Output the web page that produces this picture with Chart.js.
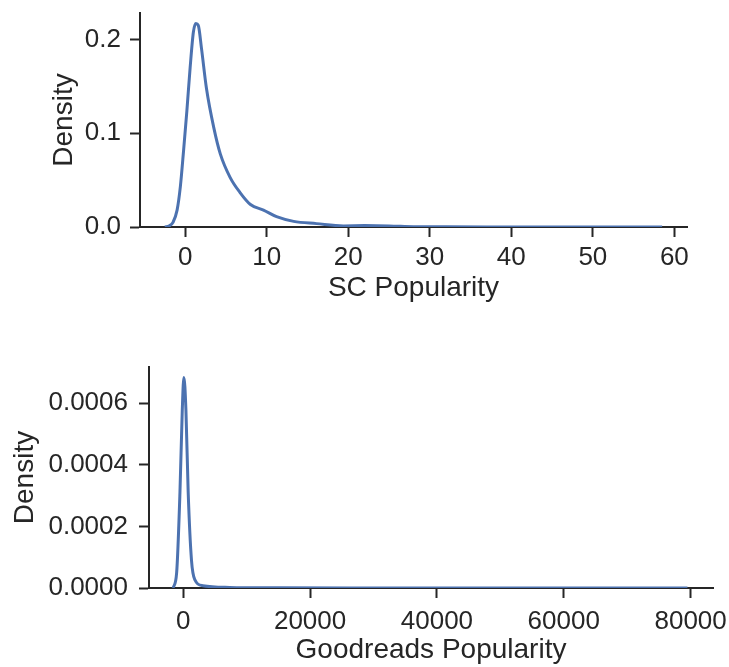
<!DOCTYPE html>
<html>
<head>
<meta charset="utf-8">
<script src="https://cdn.jsdelivr.net/npm/chart.js@4"></script>
<style>
  body { margin: 0; background: #fff; }
  #top, #bottom { position: absolute; left: 0; }
  #top { top: 0; }
  #bottom { top: 340px; }
</style>
</head>
<body>
<canvas id="top" width="729" height="330"></canvas>
<canvas id="bottom" width="729" height="327"></canvas>
<script>
// KDE of SC popularity
const scX = [-2.5, -2.0, -1.5, -1.0, -0.6, -0.2, 0.2, 0.6, 1.0, 1.3, 1.6, 2.0, 2.6, 3.5, 4.3, 5.5, 6.7, 8.0, 9.6, 11.2, 13.3, 16.1, 19.4, 22, 25, 28, 32, 40, 50, 58.5];
const scY = [0, 0.001, 0.005, 0.018, 0.043, 0.082, 0.124, 0.170, 0.208, 0.217, 0.215, 0.190, 0.148, 0.106, 0.078, 0.053, 0.037, 0.024, 0.018, 0.011, 0.006, 0.0036, 0.0012, 0.0015, 0.0012, 0.0004, 0.0002, 0.0001, 0.00005, 0];

// KDE of Goodreads popularity
const grX = [-1600, -1040, -520, -150, 100, 420, 780, 1300, 1820, 3100, 7300, 15000, 30000, 50000, 79500];
const grY = [0, 0.00005, 0.00031, 0.00058, 0.000684, 0.00058, 0.00031, 0.00009, 0.000027, 0.0000075, 0.000002, 0.0000008, 0.0000003, 0.0000001, 0];

const scXTicks = [0, 10, 20, 30, 40, 50, 60];
const scYTicks = [0, 0.1, 0.2];
const scYLabels = ['0.0', '0.1', '0.2'];
const grXTicks = [0, 20000, 40000, 60000, 80000];
const grYTicks = [0, 0.0002, 0.0004, 0.0006];
const grYLabels = ['0.0000', '0.0002', '0.0004', '0.0006'];

const ink = '#262626';
const lineBlue = '#4C72B0';
const fam = '"Liberation Sans", Arial, sans-serif';

// no extra label padding, chart area comes from layout padding only
function noPad(s) {
    s.paddingTop = 0; s.paddingBottom = 0; s.paddingLeft = 0; s.paddingRight = 0;
}

function kdeChart(id, xs, ys, cfg) {
    return new Chart(document.getElementById(id), {
        type: 'line',
        data: {
            datasets: [{
                data: xs.map((x, i) => ({x: x, y: ys[i]})),
                borderColor: lineBlue,
                borderWidth: 3,
                pointRadius: 0,
                cubicInterpolationMode: 'monotone',
                fill: false
            }]
        },
        options: {
            responsive: false,
            animation: false,
            layout: { autoPadding: false, padding: cfg.padding },
            plugins: { legend: { display: false }, tooltip: { enabled: false } },
            scales: {
                x: {
                    type: 'linear',
                    min: cfg.xMin,
                    max: cfg.xMax,
                    afterFit: s => { s.height = cfg.xHeight; noPad(s); },
                    afterBuildTicks: s => { s.ticks = cfg.xTicks.map(v => ({value: v})); },
                    border: { display: true, color: ink, width: 2 },
                    grid: { drawOnChartArea: false, tickLength: 10, tickWidth: 2, tickColor: ink },
                    ticks: { color: ink, padding: cfg.xPad, maxRotation: 0, font: { family: fam, size: 26 },
                             callback: v => String(v) },
                    title: { display: true, text: cfg.xTitle, color: ink, font: { family: fam, size: 28 },
                             padding: { top: 0, bottom: cfg.xTitlePad } }
                },
                y: {
                    min: 0,
                    max: cfg.yMax,
                    afterFit: s => { s.width = cfg.yWidth; noPad(s); },
                    afterBuildTicks: s => { s.ticks = cfg.yTicks.map(v => ({value: v})); },
                    border: { display: true, color: ink, width: 2 },
                    grid: { drawOnChartArea: false, tickLength: 10, tickWidth: 2, tickColor: ink },
                    ticks: { color: ink, padding: cfg.yPad, font: { family: fam, size: 26 },
                             callback: (v, i) => cfg.yLabels[i] },
                    title: { display: true, text: 'Density', color: ink, font: { family: fam, size: 28 },
                             padding: { top: cfg.yTitlePad, bottom: 0 } }
                }
            }
        }
    });
}

kdeChart('top', scX, scY, {
    padding: { left: 0, right: 42, top: 13, bottom: 0 },
    xMin: -5.55, xMax: 61.55, yMax: 0.2283,
    xHeight: 103, yWidth: 140,
    xTicks: scXTicks, yTicks: scYTicks, yLabels: scYLabels,
    xPad: 5, yPad: 9, xTitlePad: 25, yTitlePad: 47,
    xTitle: 'SC Popularity'
});

kdeChart('bottom', grX, grY, {
    padding: { left: 0, right: 16, top: 27, bottom: 0 },
    xMin: -5400, xMax: 83530, yMax: 0.000718,
    xHeight: 79, yWidth: 149,
    xTicks: grXTicks, yTicks: grYTicks, yLabels: grYLabels,
    xPad: 8, yPad: 11, xTitlePad: 0, yTitlePad: 8,
    xTitle: 'Goodreads Popularity'
});
</script>
</body>
</html>
